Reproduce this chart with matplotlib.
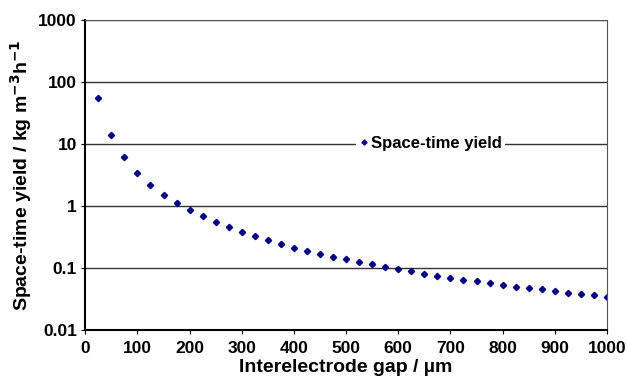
import matplotlib
matplotlib.use("Agg")
import matplotlib.pyplot as plt

plt.rcParams['font.family'] = ['Liberation Sans', 'DejaVu Sans']
plt.rcParams['font.weight'] = 'bold'

gap = [25, 50, 75, 100, 125, 150, 175, 200, 225, 250, 275, 300, 325, 350, 375,
       400, 425, 450, 475, 500, 525, 550, 575, 600, 625, 650, 675, 700, 725, 750,
       775, 800, 825, 850, 875, 900, 925, 950, 975, 1000]
yield_ = [55, 13.8, 6.1, 3.4, 2.2, 1.53, 1.12, 0.86, 0.68, 0.55, 0.45, 0.38, 0.33,
          0.28, 0.24, 0.21, 0.19, 0.17, 0.15, 0.14, 0.125, 0.114, 0.104, 0.095,
          0.088, 0.081, 0.075, 0.070, 0.065, 0.061, 0.057, 0.054, 0.050, 0.048,
          0.045, 0.042, 0.040, 0.038, 0.036, 0.034]

fig = plt.figure(figsize=(6.27, 3.85), dpi=100)
ax = fig.add_axes([0.136, 0.143, 0.832, 0.805])

ax.plot(gap, yield_, linestyle='none', marker='D', markersize=3.2,
        color='#000080', label='Space-time yield')

ax.set_yscale('log')
ax.set_ylim(0.01, 1000)
ax.set_xlim(0, 1000)
ax.set_xticks(range(0, 1001, 100))
ax.set_yticks([0.01, 0.1, 1, 10, 100, 1000])
ax.set_yticklabels(['0.01', '0.1', '1', '10', '100', '1000'])
ax.minorticks_off()
ax.grid(axis='y', color='#333333', linewidth=1)
ax.set_axisbelow(True)

for s in ['top', 'right']:
    ax.spines[s].set_color('#555555')
for s in ['left', 'bottom']:
    ax.spines[s].set_linewidth(1.5)
ax.tick_params(direction='out', length=3, labelsize=12.5, pad=3)
ax.tick_params(axis='x', pad=5)

ax.set_xlabel('Interelectrode gap / µm', fontsize=14, fontweight='bold', labelpad=2)
ax.set_ylabel('Space-time yield / kg m$^{\\mathbf{-3}}$h$^{\\mathbf{-1}}$',
              fontsize=14, fontweight='bold', labelpad=3)

leg = ax.legend(loc='center', bbox_to_anchor=(0.662, 0.603), frameon=True,
                fontsize=12, handlelength=0.5, handletextpad=0.2,
                borderpad=0.2, borderaxespad=0, markerscale=0.8)
leg.get_frame().set_edgecolor('none')
leg.get_frame().set_facecolor('white')
leg.get_frame().set_alpha(1)

fig.savefig('out.png', dpi=100)
